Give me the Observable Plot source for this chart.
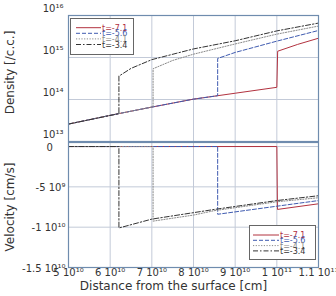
<!DOCTYPE html>
<html><head><meta charset="utf-8">
<script src="https://cdn.jsdelivr.net/npm/d3@7"></script>
<script src="https://cdn.jsdelivr.net/npm/@observablehq/plot@0.6"></script>
<style>
body{margin:0;background:#fff;}
#chart{position:relative;width:336px;height:296px;font-family:"DejaVu Sans",sans-serif;}
#chart > svg, #chart > .leg{position:absolute;left:0;}
</style></head><body><div id="chart"></div>
<script>
// ---- series ----
const seriesNames = ["t=-7.1", "t=-5.6", "t=-4.1", "t=-3.4"];
const seriesColors = ["#b2323f", "#3f5bb0", "#8a8a8a", "#333333"];
const seriesDash = ["none", "4,2", "1.2,1.5", "5,2,1.5,2"];

// ---- density [/c.c.] vs distance [cm] ----
const densX71 = [5e10, 6e10, 7e10, 8e10, 9e10, 1e11, 1.002e11, 1.05e11, 1.1e11];
const densN71 = [2.6e13, 4.2e13, 6.6e13, 1.02e14, 1.41e14, 1.95e14, 1.41e15, 2.05e15, 2.88e15];
const densX56 = [5e10, 6e10, 7e10, 8e10, 8.58e10, 8.58e10, 9e10, 1e11, 1.1e11];
const densN56 = [2.6e13, 4.2e13, 6.6e13, 1.02e14, 1.23e14, 9.5e14, 1.32e15, 2.45e15, 4.4e15];
const densX41 = [5e10, 6e10, 7.03e10, 7.03e10, 7.5e10, 8e10, 9e10, 1e11, 1.1e11];
const densN41 = [2.6e13, 4.2e13, 6.7e13, 5.4e14, 8.5e14, 1.2e15, 2.1e15, 3.6e15, 5.6e15];
const densX34 = [5e10, 6.21e10, 6.21e10, 6.5e10, 7e10, 8e10, 9e10, 1e11, 1.1e11];
const densN34 = [2.6e13, 4.6e13, 3.6e14, 5.5e14, 8.9e14, 1.6e15, 2.5e15, 4.3e15, 6.6e15];

// ---- velocity [cm/s] vs distance [cm] ----
const velX71 = [5e10, 1e11, 1.0015e11, 1.1e11];
const velV71 = [0, 0, -7.8e9, -7.1e9];
const velX56 = [5e10, 8.58e10, 8.58e10, 1e11, 1.1e11];
const velV56 = [0, 0, -8.4e9, -7.4e9, -6.7e9];
const velX41 = [5e10, 7.03e10, 7.03e10, 8e10, 8.5e10, 1e11, 1.1e11];
const velV41 = [0, 0, -9.25e9, -8.5e9, -7.95e9, -6.85e9, -6.35e9];
const velX34 = [5e10, 6.21e10, 6.21e10, 7e10, 8e10, 8.5e10, 1e11, 1.1e11];
const velV34 = [0, 0, -1.01e10, -9.0e9, -8.2e9, -7.8e9, -6.7e9, -6.1e9];

// ---- ticks ----
const xTicks = [5e10, 6e10, 7e10, 8e10, 9e10, 1e11, 1.1e11];
const xTickLabels = ["5 10¹⁰", "6 10¹⁰", "7 10¹⁰", "8 10¹⁰", "9 10¹⁰", "1 10¹¹", "1.1 10¹¹"];
const densTicks = [1e13, 1e14, 1e15, 1e16];
const densTickLabels = ["10¹³", "10¹⁴", "10¹⁵", "10¹⁶"];
const velTicks = [0, -5e9, -1e10, -1.5e10];
const velTickLabels = ["0\u2007\u2007", "-5 10⁹", "-1 10¹⁰", "-1.5 10¹⁰"];

const densXs = [densX71, densX56, densX41, densX34];
const densNs = [densN71, densN56, densN41, densN34];
const velXs = [velX71, velX56, velX41, velX34];
const velVs = [velV71, velV56, velV41, velV34];

const gridColor = "#c3cad8";
const frameColor = "#6f8cae";
const textColor = "#333";
const font = "DejaVu Sans, sans-serif";
const chart = document.getElementById("chart");

function lineMarks(xs, ys, key) {
  return seriesNames.map((name, i) => Plot.line(
    xs[i].map((x, j) => ({x, [key]: ys[i][j]})),
    {x: "x", y: key, stroke: seriesColors[i], strokeWidth: 1,
     strokeDasharray: seriesDash[i] === "none" ? null : seriesDash[i]}));
}

const topPlot = Plot.plot({
  width: 336, height: 142,
  marginLeft: 68, marginRight: 18, marginTop: 15, marginBottom: 1,
  style: {fontFamily: font, fontSize: "10px", color: textColor, background: "transparent", overflow: "visible"},
  x: {domain: [5e10, 1.1e11], axis: null},
  y: {type: "log", domain: [1e13, 1e16], axis: null},
  marks: [
    Plot.gridX(xTicks, {stroke: gridColor, strokeOpacity: 1}),
    Plot.gridY(densTicks, {stroke: gridColor, strokeOpacity: 1}),
    Plot.axisY(densTicks, {tickSize: 0, tickPadding: 5, dy: -7, label: null,
      tickFormat: d => densTickLabels[densTicks.indexOf(d)]}),
    ...lineMarks(densXs, densNs, "n"),
    Plot.frame({stroke: frameColor, strokeWidth: 1.2}),
    Plot.text(["Density [/c.c.]"], {frameAnchor: "left", textAnchor: "middle", rotate: -90,
      dx: -58, dy: -6, text: d => d, fontSize: 12, fill: textColor})
  ]
});
topPlot.style.top = "0px";
chart.appendChild(topPlot);

const botPlot = Plot.plot({
  width: 336, height: 155,
  marginLeft: 68, marginRight: 18, marginTop: 1, marginBottom: 29,
  style: {fontFamily: font, fontSize: "10px", color: textColor, background: "transparent", overflow: "visible"},
  x: {domain: [5e10, 1.1e11], axis: null},
  y: {domain: [-1.5e10, 5e8], axis: null},
  marks: [
    Plot.gridX(xTicks, {stroke: gridColor, strokeOpacity: 1}),
    Plot.gridY(velTicks, {stroke: gridColor, strokeOpacity: 1}),
    Plot.axisY(velTicks, {tickSize: 0, tickPadding: 3, dy: 1, label: null,
      tickFormat: d => velTickLabels[velTicks.indexOf(d)]}),
    Plot.axisX(xTicks, {tickSize: 0, tickPadding: 1, label: null,
      tickFormat: d => xTickLabels[xTicks.indexOf(d)]}),
    ...lineMarks(velXs, velVs, "v"),
    Plot.frame({stroke: frameColor, strokeWidth: 1.2}),
    Plot.text(["Velocity [cm/s]"], {frameAnchor: "left", textAnchor: "middle", rotate: -90,
      dx: -58, dy: 2, text: d => d, fontSize: 12, fill: textColor}),
    Plot.text(["Distance from the surface [cm]"], {frameAnchor: "bottom", textAnchor: "middle",
      dx: -20, dy: 22, text: d => d, fontSize: 12, fill: textColor})
  ]
});
botPlot.style.top = "141px";
chart.appendChild(botPlot);

// ---- legends (HTML overlay built from the series arrays) ----
function legend(left, top, w, h, row0, rowStep, x0, x1, xt) {
  const ns = "http://www.w3.org/2000/svg";
  const svg = document.createElementNS(ns, "svg");
  svg.setAttribute("class", "leg");
  svg.setAttribute("width", w); svg.setAttribute("height", h);
  svg.style.position = "absolute"; svg.style.left = left + "px"; svg.style.top = top + "px";
  const r = document.createElementNS(ns, "rect");
  r.setAttribute("x", 0.5); r.setAttribute("y", 0.5);
  r.setAttribute("width", w - 1); r.setAttribute("height", h - 1);
  r.setAttribute("fill", "#fff"); r.setAttribute("stroke", "#666"); r.setAttribute("stroke-width", 1);
  svg.appendChild(r);
  seriesNames.forEach((name, i) => {
    const y = row0 + i * rowStep;
    const l = document.createElementNS(ns, "line");
    l.setAttribute("x1", x0); l.setAttribute("x2", x1);
    l.setAttribute("y1", y); l.setAttribute("y2", y);
    l.setAttribute("stroke", seriesColors[i]); l.setAttribute("stroke-width", 1);
    if (seriesDash[i] !== "none") l.setAttribute("stroke-dasharray", seriesDash[i]);
    svg.appendChild(l);
    const t = document.createElementNS(ns, "text");
    t.setAttribute("x", xt); t.setAttribute("y", y + 3);
    t.setAttribute("fill", seriesColors[i]);
    t.setAttribute("font-size", "8px");
    t.setAttribute("font-family", font);
    t.textContent = name;
    svg.appendChild(t);
  });
  chart.appendChild(svg);
}
legend(70, 18, 64, 37, 9.7, 5.6, 6, 31, 32);
legend(249, 225, 67, 35, 10, 5.3, 4, 30, 31);
</script></body></html>
